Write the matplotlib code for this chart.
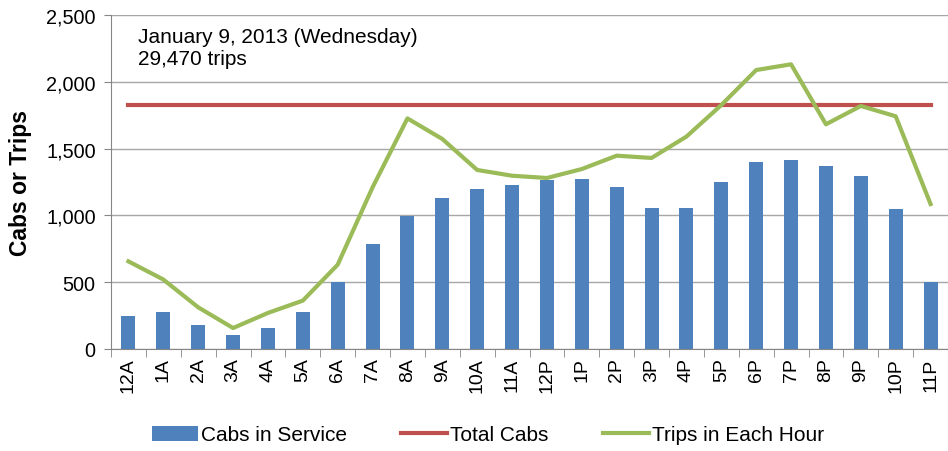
import matplotlib
matplotlib.use("Agg")
import matplotlib.pyplot as plt
from matplotlib.ticker import FuncFormatter

plt.rcParams['font.family'] = ['Liberation Sans', 'DejaVu Sans']

horas = ['12A', '1A', '2A', '3A', '4A', '5A', '6A', '7A', '8A', '9A', '10A', '11A',
         '12P', '1P', '2P', '3P', '4P', '5P', '6P', '7P', '8P', '9P', '10P', '11P']
cabs_servicio = [248, 274, 182, 107, 157, 274, 504, 783, 998, 1130, 1195, 1228,
                 1263, 1270, 1210, 1055, 1055, 1252, 1402, 1417, 1370, 1295, 1048, 499]
total_cabs = [1825] * 24
viajes = [656, 520, 312, 157, 270, 362, 631, 1210, 1726, 1572, 1340, 1297,
          1280, 1347, 1447, 1430, 1590, 1826, 2088, 2131, 1682, 1819, 1742, 1085]

x = list(range(len(horas)))

fig = plt.figure(figsize=(9.48, 4.52), dpi=100)
ax = fig.add_axes([111/948, 1 - 350/452, 1 - 111/948, 334/452])

barras = ax.bar(x, cabs_servicio, width=0.4, color='#4F81BD', zorder=2)
linea_total, = ax.plot(x, total_cabs, color='#C0504D', linewidth=3, zorder=3)
linea_viajes, = ax.plot(x, viajes, color='#9BBB59', linewidth=3, zorder=4)

ax.set_xlim(-0.5, 23.23)
ax.set_ylim(0, 2500)
ax.set_yticks(range(0, 2501, 500))
ax.yaxis.set_major_formatter(FuncFormatter(lambda v, p: f'{int(v):,}'))
ax.grid(axis='y', color='#A6A6A6', linewidth=1, zorder=0)
ax.set_axisbelow(True)

ax.set_xticks(x)
ax.set_xticklabels(horas, rotation=90, fontsize=14)
ax.set_xticks([k - 0.5 for k in range(25)], minor=True)
ax.tick_params(axis='x', which='major', length=0, pad=6)
ax.tick_params(axis='x', which='minor', length=6, color='#868686')
ax.tick_params(axis='y', labelsize=14.3, length=5, color='#868686', pad=6)

for lado in ['top', 'right']:
    ax.spines[lado].set_visible(False)
for lado in ['left', 'bottom']:
    ax.spines[lado].set_color('#868686')

ax.set_ylabel('Cabs or Trips', fontsize=16.5, fontweight='bold', labelpad=10)

ax.text(0.032, 0.965, 'January 9, 2013 (Wednesday)\n29,470 trips', transform=ax.transAxes,
        fontsize=15, va='top', ha='left', linespacing=1.2)

fig.legend([barras, linea_total, linea_viajes],
           ['Cabs in Service', 'Total Cabs', 'Trips in Each Hour'],
           loc='center', bbox_to_anchor=(488/948, 1 - 436/452), ncol=3, frameon=False,
           fontsize=15, handlelength=2.2, columnspacing=2.6, handletextpad=0.15)

fig.savefig('out.png', dpi=100)
